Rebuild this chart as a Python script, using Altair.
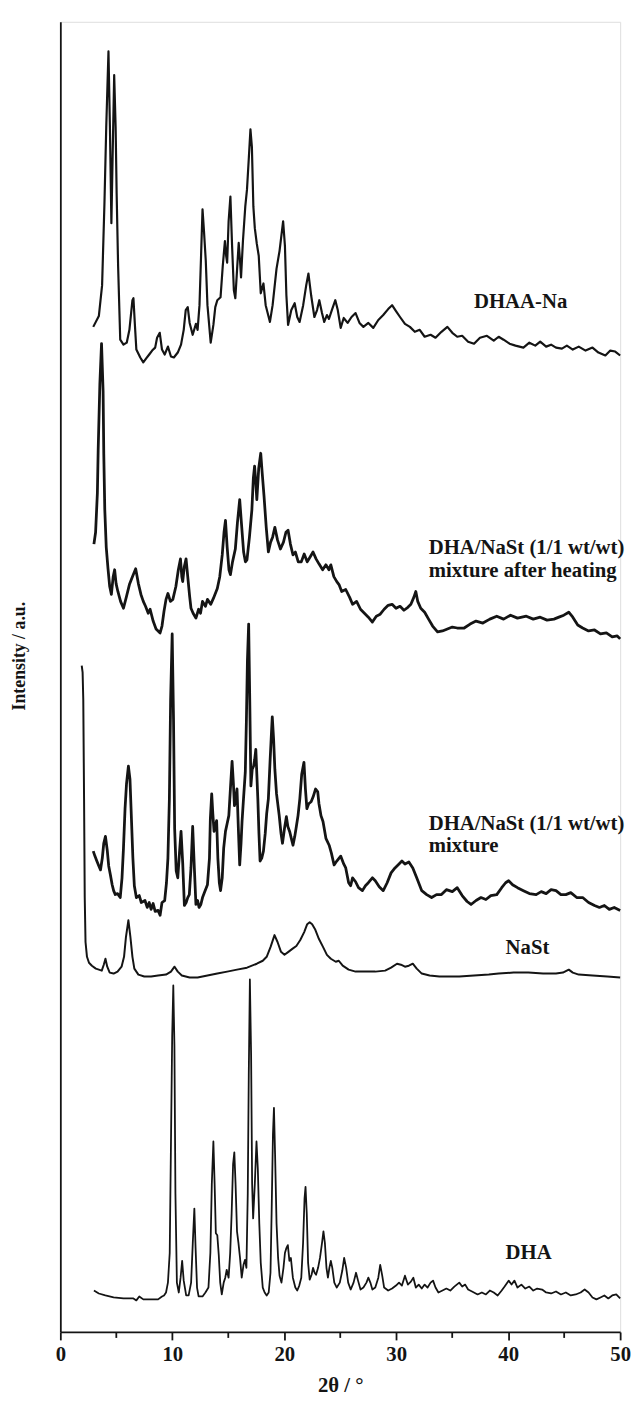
import altair as alt
import pandas as pd

# ---- data: (2theta in degrees, stacked intensity in a.u.) ----
DHAA_NA = [(2.94,1018),(3.44,1029),(3.73,1060),(3.94,1143),(4.10,1220),(4.30,1297),(4.43,1220),(4.56,1123),
 (4.67,1190),(4.81,1273),(4.94,1220),(5.03,1153),(5.16,1080),(5.35,1005),(5.64,1000),(5.93,1002),(6.17,1015),
 (6.44,1045),(6.53,1047),(6.66,1020),(6.79,995),(7.14,987),(7.41,982),(7.67,986),(7.94,990),(8.20,994),(8.47,997),
 (8.64,1007),(8.88,1012),(9.08,995),(9.32,990),(9.61,998),(9.88,988),(10.14,987),(10.49,992),(10.78,1000),
 (11.02,1015),(11.20,1035),(11.38,1038),(11.55,1022),(11.82,1010),(12.11,1021),(12.26,1015),(12.43,1040),
 (12.57,1090),(12.70,1137),(12.83,1115),(12.99,1085),(13.14,1040),(13.43,1002),(13.67,1020),(13.84,1038),
 (14.02,1045),(14.31,1048),(14.51,1080),(14.70,1105),(14.81,1090),(14.90,1083),(15.03,1125),(15.19,1150),
 (15.34,1100),(15.50,1055),(15.63,1047),(15.78,1075),(15.93,1103),(16.05,1085),(16.14,1068),(16.31,1105),
 (16.52,1140),(16.67,1157),(16.84,1190),(16.98,1218),(17.11,1200),(17.24,1140),(17.37,1118),(17.55,1102),
 (17.72,1090),(17.90,1052),(18.14,1062),(18.34,1040),(18.72,1023),(18.96,1040),(19.31,1077),(19.58,1095),
 (19.90,1125),(20.06,1100),(20.19,1050),(20.34,1020),(20.63,1035),(20.93,1042),(21.16,1028),(21.37,1023),
 (21.69,1040),(21.96,1060),(22.16,1072),(22.40,1050),(22.69,1028),(22.93,1035),(23.13,1045),(23.37,1032),
 (23.57,1023),(23.81,1030),(23.99,1026),(24.25,1035),(24.56,1045),(24.78,1035),(25.04,1017),(25.31,1027),
 (25.66,1022),(26.01,1028),(26.37,1032),(26.72,1022),(27.07,1018),(27.51,1022),(27.95,1017),(28.40,1025),
 (28.84,1030),(29.28,1036),(29.63,1040),(29.98,1034),(30.34,1028),(30.78,1021),(31.22,1018),(31.66,1013),
 (32.10,1015),(32.54,1008),(33.07,1010),(33.51,1007),(34.04,1013),(34.57,1018),(35.01,1012),(35.45,1008),
 (35.89,1009),(36.42,1003),(36.95,1001),(37.48,1007),(38.10,1009),(38.71,1004),(39.15,1008),(39.59,1005),
 (40.12,1001),(40.65,999),(41.36,997),(41.89,1002),(42.42,999),(42.86,1003),(43.39,998),(43.83,1000),
 (44.27,997),(44.80,996),(45.24,999),(45.77,995),(46.30,998),(46.91,994),(47.53,997),(48.06,992),
 (48.68,989),(49.12,994),(49.56,993),(50.00,989)]

HEATED_MIX = [(3.00,798),(3.15,810),(3.31,850),(3.38,893),(3.53,960),(3.68,1001),(3.82,953),(3.88,890),
 (3.97,833),(4.10,795),(4.26,773),(4.41,755),(4.56,747),(4.72,765),(4.85,772),(4.98,758),(5.14,750),(5.38,740),
 (5.64,733),(5.91,745),(6.17,757),(6.44,765),(6.73,773),(6.97,758),(7.20,747),(7.41,740),(7.61,735),(7.85,728),
 (8.02,732),(8.29,720),(8.55,712),(8.91,708),(9.08,715),(9.26,730),(9.44,742),(9.61,748),(9.83,740),(10.05,742),
 (10.32,755),(10.54,772),(10.73,783),(10.85,765),(10.93,760),(11.07,775),(11.23,783),(11.38,765),(11.55,745),
 (11.67,733),(11.86,728),(12.11,723),(12.35,732),(12.52,728),(12.70,740),(12.96,735),(13.14,742),(13.43,737),
 (13.67,743),(14.02,753),(14.24,765),(14.46,787),(14.62,810),(14.75,822),(14.90,795),(15.06,772),(15.19,767),
 (15.38,780),(15.63,793),(15.82,820),(16.02,843),(16.17,820),(16.37,790),(16.53,780),(16.67,782),(16.89,805),
 (17.11,833),(17.24,865),(17.35,877),(17.46,860),(17.55,843),(17.72,875),(17.90,890),(18.03,870),(18.19,847),
 (18.39,815),(18.58,790),(18.78,800),(18.96,805),(19.16,815),(19.40,802),(19.66,793),(19.93,800),(20.15,810),
 (20.34,812),(20.55,798),(20.78,787),(20.99,790),(21.25,780),(21.52,780),(21.78,788),(22.05,780),(22.31,785),
 (22.57,790),(22.84,783),(23.10,778),(23.43,772),(23.72,777),(23.99,772),(24.16,777),(24.43,765),(24.69,760),
 (24.89,757),(25.13,750),(25.49,752),(25.84,744),(26.10,737),(26.46,740),(26.81,732),(27.16,728),(27.51,724),
 (27.87,719),(28.22,725),(28.57,727),(28.92,732),(29.28,736),(29.63,737),(29.98,733),(30.34,735),(30.69,731),
 (31.04,734),(31.31,737),(31.57,744),(31.75,750),(31.92,740),(32.19,733),(32.54,729),(32.89,722),(33.25,715),
 (33.69,709),(34.13,710),(34.57,712),(35.01,714),(35.45,713),(36.07,713),(36.60,717),(37.13,720),(37.74,718),
 (38.36,722),(38.98,725),(39.59,722),(40.21,726),(40.83,723),(41.62,725),(42.24,722),(42.86,724),(43.47,721),
 (44.09,722),(44.53,724),(44.97,726),(45.41,729),(45.77,724),(46.21,716),(46.65,713),(47.18,710),(47.71,711),
 (48.24,707),(48.77,708),(49.29,704),(49.74,705),(50.00,702)]

MIX = [(2.94,487),(3.09,482),(3.26,477),(3.44,472),(3.59,468),(3.75,480),(3.88,495),(4.03,502),(4.19,488),
 (4.32,472),(4.47,463),(4.63,453),(4.76,447),(4.91,443),(5.11,444),(5.35,440),(5.51,460),(5.64,490),(5.78,530),
 (5.91,555),(6.08,573),(6.22,560),(6.35,520),(6.48,480),(6.61,452),(6.79,440),(7.05,442),(7.23,435),(7.56,437),
 (7.76,430),(7.94,435),(8.11,428),(8.29,434),(8.47,426),(8.73,427),(8.91,422),(9.08,435),(9.32,437),(9.48,455),
 (9.61,480),(9.74,540),(9.85,640),(9.99,707),(10.11,620),(10.21,510),(10.35,467),(10.49,460),(10.64,485),
 (10.78,507),(10.93,475),(11.08,432),(11.24,435),(11.38,440),(11.52,443),(11.67,470),(11.82,512),(11.97,470),
 (12.11,433),(12.26,437),(12.39,430),(12.55,433),(12.70,440),(12.87,445),(13.14,453),(13.32,480),(13.40,520),
 (13.52,545),(13.62,525),(13.73,507),(13.84,512),(13.96,518),(14.07,480),(14.20,455),(14.31,447),(14.46,460),
 (14.59,490),(14.75,507),(14.90,515),(15.05,523),(15.19,550),(15.34,578),(15.46,555),(15.55,533),(15.67,540),
 (15.78,550),(15.90,510),(16.02,473),(16.14,495),(16.23,517),(16.36,540),(16.52,567),(16.62,620),(16.71,680),
 (16.82,717),(16.92,640),(17.02,553),(17.14,570),(17.26,573),(17.36,580),(17.46,590),(17.55,565),(17.64,540),
 (17.74,505),(17.84,477),(17.99,480),(18.14,487),(18.30,505),(18.43,525),(18.58,540),(18.74,580),(18.87,610),
 (18.93,623),(19.05,600),(19.16,570),(19.31,545),(19.55,523),(19.71,505),(19.84,495),(20.02,510),(20.19,522),
 (20.32,512),(20.48,507),(20.63,500),(20.78,493),(20.94,502),(21.08,512),(21.23,523),(21.39,540),(21.56,565),
 (21.76,577),(21.89,550),(22.02,530),(22.18,535),(22.40,537),(22.58,542),(22.80,550),(22.99,547),(23.10,535),
 (23.28,523),(23.46,517),(23.57,510),(23.72,500),(24.01,493),(24.21,485),(24.45,473),(24.69,477),(25.04,482),
 (25.31,474),(25.49,470),(25.75,455),(25.93,452),(26.10,460),(26.37,456),(26.63,450),(26.98,447),(27.25,452),
 (27.51,455),(27.87,460),(28.13,457),(28.48,451),(28.84,447),(29.19,455),(29.54,465),(29.89,470),(30.25,474),
 (30.51,477),(30.78,474),(31.13,476),(31.48,470),(31.83,460),(32.28,447),(32.72,443),(33.16,440),(33.60,443),
 (34.04,443),(34.48,448),(35.01,446),(35.45,450),(35.89,442),(36.33,436),(36.68,433),(37.13,437),(37.57,440),
 (38.01,438),(38.45,442),(38.98,443),(39.42,450),(39.77,455),(40.04,457),(40.39,453),(40.83,450),(41.36,447),
 (41.89,444),(42.50,443),(42.95,446),(43.39,444),(43.83,448),(44.27,447),(44.71,443),(45.15,443),(45.59,445),
 (46.12,440),(46.65,440),(47.18,435),(47.71,432),(48.15,430),(48.59,432),(49.03,428),(49.47,430),(50.00,427)]

NAST = [(1.91,675),(1.99,668),(2.05,640),(2.12,540),(2.18,440),(2.25,395),(2.38,380),(2.56,374),(2.82,371),
 (3.17,368),(3.44,367),(3.70,366),(3.88,372),(4.03,378),(4.19,370),(4.41,364),(4.76,363),(5.11,365),(5.47,370),
 (5.69,380),(5.86,400),(6.08,417),(6.26,400),(6.44,380),(6.61,368),(6.97,362),(7.50,360),(8.11,360),(8.73,361),
 (9.44,362),(9.88,365),(10.20,370),(10.49,365),(10.85,361),(11.55,359),(12.26,359),(13.14,361),(14.02,363),
 (14.90,365),(15.78,367),(16.67,369),(17.55,373),(18.08,376),(18.43,380),(18.78,390),(19.13,402),(19.40,395),
 (19.71,385),(20.02,382),(20.37,385),(20.72,388),(21.08,391),(21.43,397),(21.78,405),(22.05,413),(22.27,415),
 (22.49,413),(22.75,408),(23.10,398),(23.46,390),(23.81,382),(24.16,378),(24.60,375),(24.87,376),(25.22,371),
 (25.75,367),(26.37,365),(27.25,365),(28.13,365),(29.01,366),(29.54,369),(30.07,373),(30.42,372),(30.78,370),
 (31.13,371),(31.48,373),(31.83,368),(32.28,363),(32.98,361),(33.86,360),(34.74,360),(35.63,360),(36.95,361),
 (38.27,362),(39.15,363),(40.48,364),(41.80,364),(43.12,363),(44.27,363),(44.89,364),(45.41,367),(45.77,364),
 (46.30,362),(47.53,361),(48.85,360),(50.00,359)]

DHA = [(3.00,42),(3.44,39),(4.02,37),(4.76,35),(5.64,34),(6.53,34),(6.79,32),(7.05,36),(7.41,33),(8.02,33),
 (8.73,33),(9.08,36),(9.26,37),(9.44,40),(9.61,50),(9.77,80),(9.88,190),(9.99,300),(10.09,351),(10.19,290),
 (10.28,140),(10.41,50),(10.58,40),(10.74,55),(10.88,72),(11.02,52),(11.24,37),(11.46,37),(11.68,50),(11.83,90),
 (11.97,125),(12.08,85),(12.21,45),(12.35,36),(12.70,36),(12.96,40),(13.23,45),(13.40,80),(13.53,150),
 (13.67,193),(13.78,150),(13.89,100),(14.02,98),(14.15,78),(14.28,50),(14.42,38),(14.59,50),(14.73,55),
 (14.86,63),(15.03,55),(15.17,80),(15.30,120),(15.43,170),(15.54,182),(15.65,150),(15.78,102),(15.91,90),
 (16.05,75),(16.20,55),(16.36,68),(16.49,73),(16.62,65),(16.74,140),(16.83,260),(16.93,357),(17.04,280),
 (17.13,150),(17.22,115),(17.37,150),(17.52,193),(17.64,165),(17.77,110),(17.90,70),(18.08,45),(18.25,40),
 (18.43,37),(18.61,40),(18.77,60),(18.87,120),(18.99,200),(19.08,227),(19.18,180),(19.31,110),(19.45,75),
 (19.58,57),(19.75,50),(19.93,65),(20.06,80),(20.19,85),(20.32,88),(20.46,72),(20.59,75),(20.77,55),(20.99,45),
 (21.16,42),(21.34,47),(21.52,55),(21.68,90),(21.81,135),(21.90,147),(22.01,120),(22.13,70),(22.27,53),
 (22.44,58),(22.57,65),(22.71,60),(22.84,58),(23.02,65),(23.19,75),(23.37,90),(23.50,102),(23.63,90),(23.77,65),
 (23.90,55),(24.03,65),(24.16,72),(24.29,65),(24.47,50),(24.69,45),(24.96,50),(25.18,62),(25.35,75),(25.53,65),
 (25.71,50),(25.93,43),(26.19,50),(26.41,60),(26.59,52),(26.81,43),(27.07,45),(27.34,50),(27.51,55),(27.69,50),
 (27.87,43),(28.13,45),(28.40,55),(28.57,68),(28.75,57),(28.92,45),(29.28,42),(29.63,44),(29.98,47),(30.25,50),
 (30.51,47),(30.78,57),(31.04,48),(31.31,51),(31.53,55),(31.75,45),(32.01,48),(32.28,44),(32.54,48),(32.80,45),
 (33.07,50),(33.29,52),(33.51,45),(33.77,40),(34.13,42),(34.48,44),(34.83,42),(35.19,46),(35.63,50),(35.89,46),
 (36.16,48),(36.42,43),(36.77,41),(37.27,38),(37.65,40),(38.01,38),(38.36,42),(38.71,40),(39.06,37),(39.42,42),
 (39.68,46),(40.04,52),(40.30,48),(40.56,52),(40.83,45),(41.18,48),(41.53,44),(41.89,46),(42.24,42),(42.59,44),
 (43.03,43),(43.39,40),(43.83,39),(44.27,41),(44.71,38),(45.15,40),(45.59,37),(46.03,38),(46.47,40),(46.83,43),
 (47.18,40),(47.53,35),(47.88,33),(48.24,35),(48.59,37),(48.94,34),(49.29,37),(49.65,38),(50.00,34)]

SERIES_NAMES = ["DHAA-Na", "DHA/NaSt mixture after heating", "DHA/NaSt mixture", "NaSt", "DHA"]
SERIES_DATA = [DHAA_NA, HEATED_MIX, MIX, NAST, DHA]

LABEL_TEXT = ["DHAA-Na", "DHA/NaSt (1/1 wt/wt)", "mixture after heating",
              "DHA/NaSt (1/1 wt/wt)", "mixture", "NaSt", "DHA"]
LABEL_X = [36.95, 32.9, 32.9, 32.9, 32.9, 39.77, 39.77]
LABEL_Y = [1043, 794, 771, 514, 492, 389, 80]

MAJOR_TICKS = [0, 10, 20, 30, 40, 50]
MINOR_TICKS = [5, 15, 25, 35, 45]

FONT = "Liberation Serif"
INK = "#141414"
WIDTHS = [2.2, 2.8, 2.8, 2.0, 1.8]

xscale = alt.Scale(domain=[0, 50], nice=False, zero=False)
yscale = alt.Scale(domain=[0, 1327], nice=False, zero=False)

xaxis = alt.Axis(values=MAJOR_TICKS, title="2θ / °", grid=False, tickSize=8, tickWidth=1.8,
                 tickColor=INK, domainColor=INK, domainWidth=1.8, labelFont=FONT, labelFontSize=21,
                 labelFontWeight="bold", labelColor=INK, labelPadding=4, titleFont=FONT,
                 titleFontSize=21, titleFontWeight="bold", titleColor=INK, titlePadding=10,
                 labelFlush=False, format="d")
yaxis = alt.Axis(ticks=False, labels=False, grid=False, domainColor=INK, domainWidth=1.8,
                 title="Intensity / a.u.", titleFont=FONT, titleFontSize=18, titleFontWeight="bold",
                 titleColor=INK, titleX=-41, titleY=642, titleAngle=-90, titleAlign="center",
                 titleBaseline="middle")

X_ENC = alt.X("x:Q", scale=xscale, axis=xaxis)
Y_ENC = alt.Y("y:Q", scale=yscale, axis=yaxis)

layers = []
for name, pts, w in zip(SERIES_NAMES, SERIES_DATA, WIDTHS):
    df = pd.DataFrame({"x": [p[0] for p in pts], "y": [p[1] for p in pts],
                       "i": list(range(len(pts))), "series": name})
    layers.append(
        alt.Chart(df).mark_line(color=INK, strokeWidth=w, strokeJoin="round")
        .encode(x=X_ENC, y=Y_ENC, order="i:Q")
    )

minor_df = pd.DataFrame({"x": MINOR_TICKS})
minor = alt.Chart(minor_df).mark_rule(color=INK, strokeWidth=1.8).encode(
    x=X_ENC, y=alt.value(1327), y2=alt.value(1333))

lab_df = pd.DataFrame({"x": LABEL_X, "y": LABEL_Y, "t": LABEL_TEXT})
labels = alt.Chart(lab_df).mark_text(align="left", baseline="middle", font=FONT, fontSize=21,
                                     fontWeight="bold", color=INK).encode(
    x=X_ENC, y=Y_ENC, text="t:N")

chart = alt.layer(*layers, minor, labels).properties(
    width=567, height=1327,
    autosize=alt.AutoSizeParams(type="none"),
    padding={"left": 53, "top": 5, "right": 12, "bottom": 66},
).configure_view(strokeOpacity=0).configure(background="white")

chart.save("out.html", embed_options={"renderer": "svg", "actions": False})
